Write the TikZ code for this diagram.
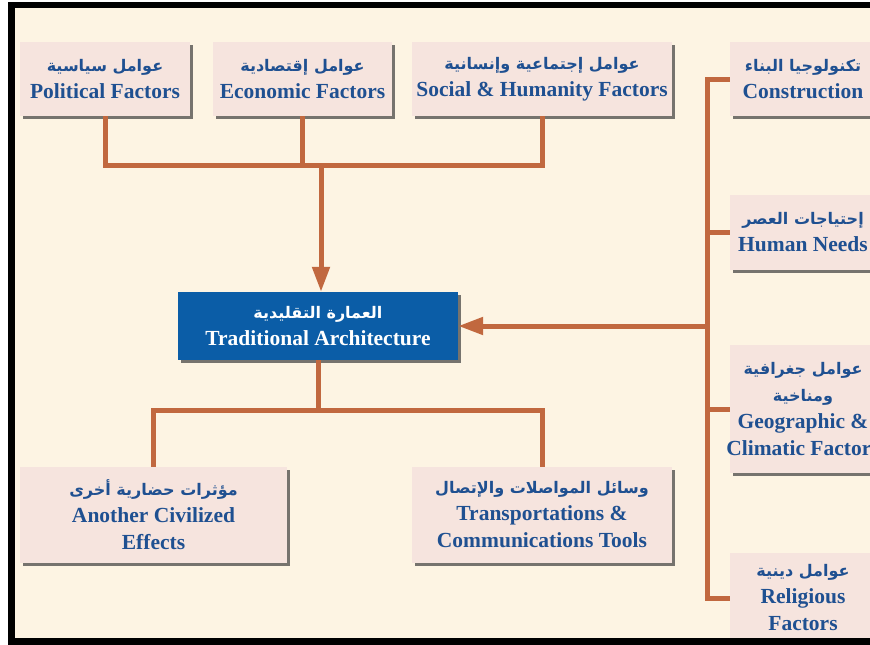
\documentclass[tikz,border=0pt]{standalone}
\usepackage{fontspec}
\setmainfont{Liberation Serif}
\newfontfamily\arabicfont[Script=Arabic]{DejaVu Sans}
\TeXXeTstate=1
\usetikzlibrary{arrows.meta,positioning,shadows}
\definecolor{tabg}{RGB}{253,244,227}
\definecolor{tabox}{RGB}{246,228,222}
\definecolor{tablue}{RGB}{11,93,167}
\definecolor{tatext}{RGB}{31,80,145}
\definecolor{taline}{RGB}{193,104,63}
\definecolor{tashadow}{RGB}{118,115,110}
\newcommand{\artxt}[1]{{\arabicfont\bfseries\fontsize{16}{18}\selectfont\beginR #1\endR}}
\tikzset{
  factor/.style={rectangle, fill=tabox, text=tatext, align=center, inner sep=0pt,
    font=\bfseries\fontsize{21.5}{27}\selectfont,
    drop shadow={shadow xshift=3pt, shadow yshift=-3pt, fill=tashadow, opacity=1}},
  core/.style={factor, fill=tablue, text=white},
  link/.style={line width=5pt, draw=taline},
  linkarrow/.style={link, -{Triangle[width=17pt,length=25pt]}}
}
\begin{document}
\begin{tikzpicture}[x=1pt, y=-1pt]
\useasboundingbox (0,0) rectangle (870,645);
\clip (0,0) rectangle (870,645);
\fill[tabg] (11,5) rectangle (880,641);

% Top factors
\node (political) [factor, minimum width=170pt, minimum height=74pt] at (105,79) {\artxt{عوامل سياسية}\\Political Factors};
\node (economic) [factor, minimum width=179pt, minimum height=74pt] at (302.5,79) {\artxt{عوامل إقتصادية}\\Economic Factors};
\node (social) [factor, minimum width=260pt, minimum height=74pt] at (542,79) {\artxt{عوامل إجتماعية وإنسانية}\\Social \& Humanity Factors};

% Central concept
\node (tradarch) [core, minimum width=280pt, minimum height=68pt] at (318,326) {\artxt{العمارة التقليدية}\\Traditional Architecture};

% Bottom factors
\node (civilized) [factor, minimum width=267pt, minimum height=96pt] at (153.5,515) {\artxt{مؤثرات حضارية أخرى}\\Another Civilized\\Effects};
\node (transport) [factor, minimum width=260pt, minimum height=96pt] at (542,515) {\artxt{وسائل المواصلات والإتصال}\\Transportations \&\\Communications Tools};

% Right factors
\node (construction) [factor, minimum width=146pt, minimum height=74pt] at (803,79) {\artxt{تكنولوجيا البناء}\\Construction};
\node (needs) [factor, minimum width=146pt, minimum height=75pt] at (803,232.5) {\artxt{إحتياجات العصر}\\Human Needs};
\node (geoclim) [factor, minimum width=146pt, minimum height=128pt] at (803,409) {\artxt{عوامل جغرافية}\\\artxt{ومناخية}\\Geographic \&\\\makebox[140pt]{Climatic Factors}};
\node (religious) [factor, minimum width=146pt, minimum height=90pt] at (803,598) {\artxt{عوامل دينية}\\Religious\\Factors};

% Junctions
\coordinate (topjoin) at (321,165);
\coordinate (botjoin) at (318,410);
\coordinate (spine) at (707,326);

% Connections
\draw[link] (political.south) |- (topjoin) -| (social.south);
\draw[link] (economic.south) -- (economic.south |- topjoin);
\draw[linkarrow] (topjoin) -- (topjoin |- tradarch.north);

\draw[link] (tradarch.south -| botjoin) -- (botjoin);
\draw[link] (civilized.north) |- (botjoin) -| (transport.north);

\draw[link] (construction.west) -| (spine |- religious.west) -- (religious.west);
\foreach \f in {needs,geoclim}
  \draw[link] (\f.west) -- (\f.west -| spine);
\draw[linkarrow] (spine) -- (tradarch.east);

% Frame
\draw[line width=6.5pt] (880,5) -- (11.5,5) -- (11.5,641.5) -- (880,641.5);
\end{tikzpicture}
\end{document}
